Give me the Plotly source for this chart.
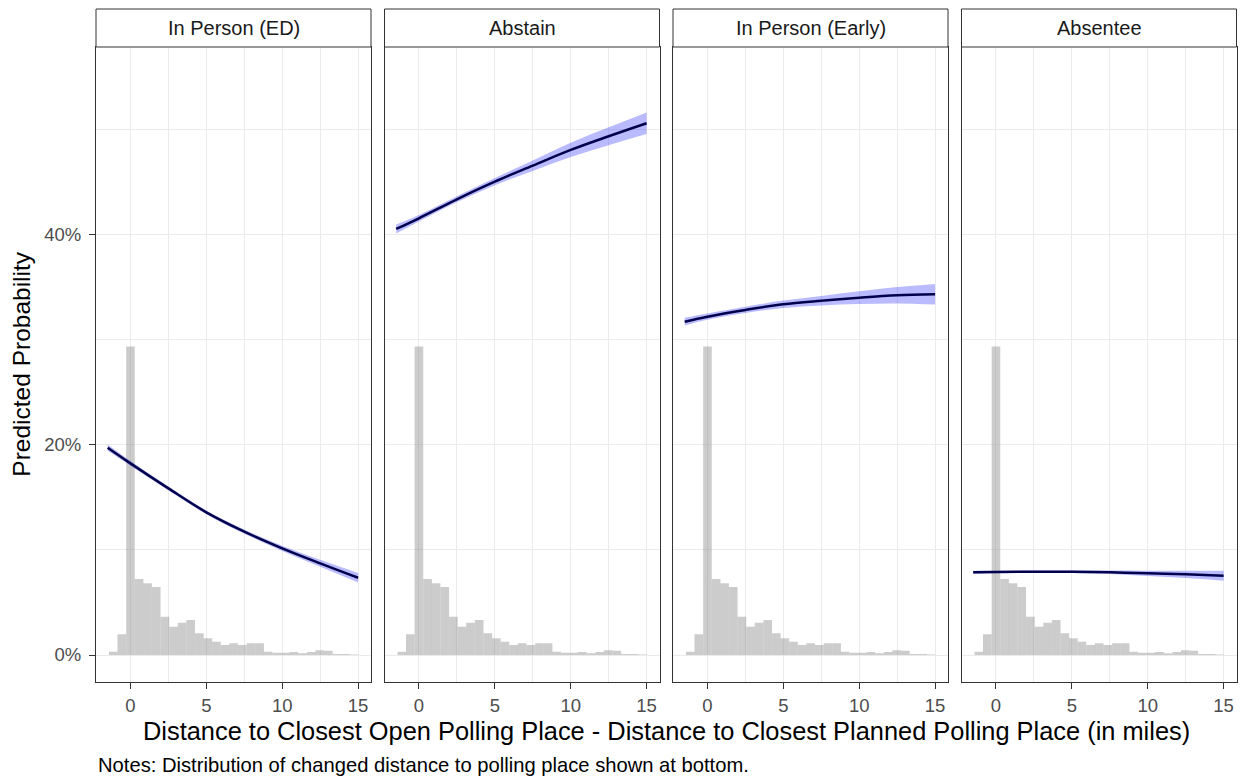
import plotly.graph_objects as go

# ---------------- data ----------------
panels = ["In Person (ED)", "Abstain", "In Person (Early)", "Absentee"]

dist_x = [-1.5, 0, 2.5, 5, 7.5, 10, 12.5, 15]

ed_mean = [19.74, 18.25, 15.87, 13.59, 11.75, 10.16, 8.73, 7.36]
ed_half = [0.30, 0.22, 0.18, 0.18, 0.20, 0.25, 0.33, 0.45]

abstain_mean = [40.57, 41.59, 43.40, 45.08, 46.60, 48.10, 49.40, 50.64]
abstain_half = [0.42, 0.30, 0.28, 0.35, 0.50, 0.68, 0.85, 1.03]

early_mean = [31.74, 32.22, 32.86, 33.40, 33.74, 34.03, 34.26, 34.35]
early_half = [0.37, 0.30, 0.30, 0.35, 0.45, 0.60, 0.78, 0.98]

absentee_mean = [7.87, 7.90, 7.93, 7.93, 7.88, 7.78, 7.68, 7.55]
absentee_half = [0.15, 0.12, 0.11, 0.12, 0.17, 0.25, 0.35, 0.47]

hist_centers = [-1.13, -0.57, 0.00, 0.57, 1.13, 1.70, 2.27, 2.84, 3.40, 3.97,
                4.54, 5.10, 5.67, 6.24, 6.80, 7.37, 7.94, 8.51, 9.07, 9.64,
                10.21, 10.77, 11.34, 11.91, 12.47, 13.04, 13.61, 14.18, 14.74]
hist_pct = [0.32, 1.97, 29.37, 7.24, 6.83, 6.48, 3.65, 2.70, 3.08, 3.33,
            2.06, 1.59, 1.27, 0.95, 1.11, 0.95, 1.11, 1.11, 0.32, 0.22,
            0.22, 0.29, 0.16, 0.29, 0.45, 0.41, 0.10, 0.10, 0.05]
hist_bin_width = 0.567

x_ticks = [0, 5, 10, 15]
x_minor = [2.5, 7.5, 12.5]
y_ticks = [0, 20, 40]
y_tick_text = ["0%", "20%", "40%"]
y_minor = [10, 30, 50]

means = [ed_mean, abstain_mean, early_mean, absentee_mean]
halves = [ed_half, abstain_half, early_half, absentee_half]

# ---------------- layout geometry ----------------
W, H = 1244, 777
panel_left = [96, 384.5, 673, 961.5]
panel_w = 275
panel_top, panel_bot = 47, 682.3
strip_top = 9

FONT = "Liberation Sans, Arial, Helvetica, sans-serif"
BORDER = "#333333"
GRID = "#EBEBEB"
TICKTXT = "#4D4D4D"

fig = go.Figure()
layout = dict(
    width=W, height=H, margin=dict(l=0, r=0, t=0, b=0),
    paper_bgcolor="white", plot_bgcolor="white",
    showlegend=False, font=dict(family=FONT, color="black"),
    shapes=[], annotations=[],
)

ydom = [1 - panel_bot / H, 1 - panel_top / H]

for i, name in enumerate(panels):
    n = "" if i == 0 else str(i + 1)
    xa, ya = "x" + n, "y" + n
    mean = means[i]
    lo = [m - h for m, h in zip(mean, halves[i])]
    hi = [m + h for m, h in zip(mean, halves[i])]

    fig.add_trace(go.Bar(x=hist_centers, y=hist_pct, width=hist_bin_width,
                         marker=dict(color="rgba(128,128,128,0.4)", line=dict(width=0)),
                         xaxis=xa, yaxis=ya, hoverinfo="skip"))
    fig.add_trace(go.Scatter(x=dist_x, y=lo, mode="lines",
                             line=dict(width=0, shape="spline", color="rgba(0,0,255,0)"),
                             xaxis=xa, yaxis=ya, hoverinfo="skip"))
    fig.add_trace(go.Scatter(x=dist_x, y=hi, mode="lines", fill="tonexty",
                             fillcolor="rgba(0,0,255,0.27)",
                             line=dict(width=0, shape="spline", color="rgba(0,0,255,0)"),
                             xaxis=xa, yaxis=ya, hoverinfo="skip"))
    fig.add_trace(go.Scatter(x=dist_x, y=mean, mode="lines",
                             line=dict(width=2.5, shape="spline", color="#00004D"),
                             xaxis=xa, yaxis=ya))

    l = panel_left[i] / W
    r = (panel_left[i] + panel_w) / W
    layout["xaxis" + n] = dict(
        domain=[l, r], anchor=ya, range=[-2.27, 15.85],
        tickvals=x_ticks, ticks="outside", ticklen=6, tickwidth=1.2, tickcolor=BORDER,
        tickfont=dict(size=18.5, color=TICKTXT, family=FONT), ticklabelstandoff=0,
        showgrid=True, gridcolor=GRID, gridwidth=1.2,
        minor=dict(tickvals=x_minor, showgrid=True, gridcolor=GRID, gridwidth=0.9, ticks=""),
        showline=True, mirror=True, linecolor=BORDER, linewidth=1, zeroline=False,
    )
    ycfg = dict(
        domain=ydom, anchor=xa, range=[-2.6, 57.9],
        tickvals=y_ticks, ticktext=y_tick_text,
        showgrid=True, gridcolor=GRID, gridwidth=1.2,
        minor=dict(tickvals=y_minor, showgrid=True, gridcolor=GRID, gridwidth=0.9, ticks=""),
        showline=True, mirror=True, linecolor=BORDER, linewidth=1, zeroline=False,
    )
    if i == 0:
        ycfg.update(ticks="outside", ticklen=6, tickwidth=1.2, tickcolor=BORDER,
                    tickfont=dict(size=18.5, color=TICKTXT, family=FONT), ticklabelstandoff=4)
    else:
        ycfg.update(matches="y", showticklabels=False, ticks="")
    layout["yaxis" + n] = ycfg

    # strip
    layout["shapes"].append(dict(type="rect", xref="paper", yref="paper",
                                 x0=l, x1=r, y0=1 - panel_top / H, y1=1 - strip_top / H,
                                 line=dict(color=BORDER, width=1), fillcolor="white", layer="above"))
    layout["annotations"].append(dict(text=name, xref="paper", yref="paper",
                                      x=(l + r) / 2, y=1 - 28 / H, xanchor="center", yanchor="middle",
                                      showarrow=False, font=dict(size=20, color="#1A1A1A", family=FONT)))

layout["annotations"] += [
    dict(text="Predicted Probability", xref="paper", yref="paper", x=22 / W,
         y=1 - ((panel_top + panel_bot) / 2) / H, textangle=-90, xanchor="center", yanchor="middle",
         showarrow=False, font=dict(size=24.5, color="black", family=FONT)),
    dict(text="Distance to Closest Open Polling Place - Distance to Closest Planned Polling Place (in miles)",
         xref="paper", yref="paper", x=(panel_left[0] + panel_left[3] + panel_w) / 2 / W, y=1 - 731 / H,
         xanchor="center", yanchor="middle", showarrow=False,
         font=dict(size=25.4, color="black", family=FONT)),
    dict(text="Notes: Distribution of changed distance to polling place shown at bottom.",
         xref="paper", yref="paper", x=96 / W, y=1 - 765 / H, xanchor="left", yanchor="middle",
         showarrow=False, font=dict(size=20.2, color="black", family=FONT)),
]

fig.update_layout(**layout)
fig.write_html("out.html")
